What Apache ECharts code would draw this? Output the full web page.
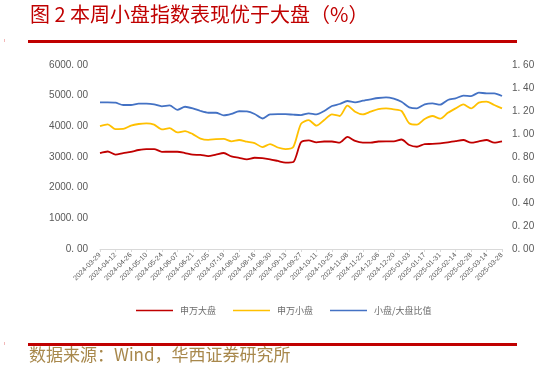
<!DOCTYPE html>
<html>
<head>
<meta charset="utf-8">
<script src="https://cdn.jsdelivr.net/npm/echarts@6/dist/echarts.min.js"></script>
<style>
html,body{margin:0;padding:0;background:#fff;}
#c{width:544px;height:371px;}
</style>
</head>
<body>
<div id="c"></div>
<script>
var dates = ['2024-03-29','2024-04-05','2024-04-12','2024-04-19','2024-04-26','2024-05-03','2024-05-10','2024-05-17','2024-05-24','2024-05-31',
'2024-06-07','2024-06-14','2024-06-21','2024-06-28','2024-07-05','2024-07-12','2024-07-19','2024-07-26','2024-08-02','2024-08-09',
'2024-08-16','2024-08-23','2024-08-30','2024-09-06','2024-09-13','2024-09-20','2024-09-27','2024-10-04','2024-10-11','2024-10-18',
'2024-10-25','2024-11-01','2024-11-08','2024-11-15','2024-11-22','2024-11-29','2024-12-06','2024-12-13','2024-12-20','2024-12-27',
'2025-01-03','2025-01-10','2025-01-17','2025-01-24','2025-01-31','2025-02-07','2025-02-14','2025-02-21','2025-02-28','2025-03-07',
'2025-03-14','2025-03-21','2025-03-28'];

var largeCap = [3130,3180,3075,3125,3170,3228,3260,3260,3170,3172,
3172,3130,3075,3070,3030,3080,3130,3020,2975,2925,
2975,2965,2925,2870,2815,2835,3480,3545,3475,3505,
3505,3470,3655,3525,3470,3470,3505,3510,3510,3570,
3390,3335,3420,3425,3445,3478,3520,3554,3467,3510,
3554,3467,3510];

var smallCap = [4010,4065,3910,3915,4021,4076,4097,4054,3902,3940,
3800,3847,3745,3600,3560,3580,3590,3510,3555,3500,
3455,3320,3420,3310,3260,3325,4080,4200,4021,4206,
4391,4337,4673,4478,4391,4478,4565,4586,4554,4500,
4100,4054,4239,4337,4250,4440,4586,4717,4586,4771,
4804,4695,4586];

var ratio = [1.275,1.275,1.272,1.252,1.252,1.264,1.264,1.258,1.241,1.249,
1.210,1.237,1.223,1.200,1.185,1.185,1.162,1.175,1.198,1.196,
1.174,1.135,1.170,1.172,1.172,1.168,1.165,1.180,1.171,1.200,
1.243,1.261,1.287,1.275,1.290,1.302,1.313,1.319,1.307,1.280,
1.232,1.223,1.258,1.267,1.255,1.296,1.310,1.333,1.330,1.359,
1.354,1.354,1.330];

var seriesNames = ['申万大盘','申万小盘','小盘/大盘比值'];
var titleText = '图 2 本周小盘指数表现优于大盘（%）';
var sourceText = '数据来源：Wind，华西证券研究所';

var chart = echarts.init(document.getElementById('c'));
function fmt(v){ return v.toFixed(2).replace('.', '. '); }
var labelColor = '#595959';
chart.setOption({
  backgroundColor: '#fff',
  animation: false,
  graphic: [
    {type:'text', left:30, top:4, style:{text:titleText, fill:'#c00000', font:'20px "Noto Sans CJK SC"'}},
    {type:'rect', shape:{x:28, y:40, width:489, height:3}, style:{fill:'#c00000'}},
    {type:'rect', shape:{x:4, y:39, width:1, height:3}, style:{fill:'#f2b8b8'}},
    {type:'rect', shape:{x:28, y:343, width:489, height:3}, style:{fill:'#c00000'}},
    {type:'rect', shape:{x:4, y:342, width:1, height:3}, style:{fill:'#f2b8b8'}},
    {type:'text', left:29, top:346, style:{text:sourceText, fill:'#a8884c', font:'17px "Noto Sans CJK SC"'}}
  ],
  legend: {
    data: seriesNames,
    left: 136, top: 306, padding: 0,
    itemWidth: 37, itemHeight: 10, itemGap: 17,
    icon: 'path://M0,4.2L37,4.2L37,5.8L0,5.8Z',
    textStyle: {color: '#6b6b6b', fontSize: 9, fontFamily: 'Noto Sans CJK SC', padding:[0,0,0,2]}
  },
  grid: {left: 100, right: 42, top: 65, bottom: 122, containLabel: false},
  xAxis: {
    type: 'category', data: dates, boundaryGap: false,
    axisLine: {lineStyle: {color: '#d9d9d9'}},
    axisTick: {show: true, interval: 1, length: 3, lineStyle: {color: '#d9d9d9'}},
    axisLabel: {interval: 1, rotate: 45, fontSize: 7, color: labelColor, margin: 5, fontFamily: 'Liberation Sans'},
    splitLine: {show: false}
  },
  yAxis: [
    {type: 'value', min: 0, max: 6000, interval: 1000,
     axisLine: {show: false}, axisTick: {show: false}, splitLine: {show: false},
     axisLabel: {formatter: fmt, color: labelColor, fontSize: 10, margin: 12, fontFamily: 'Liberation Sans'}},
    {type: 'value', min: 0, max: 1.6, interval: 0.2,
     axisLine: {show: false}, axisTick: {show: false}, splitLine: {show: false},
     axisLabel: {formatter: fmt, color: labelColor, fontSize: 10, margin: 10, fontFamily: 'Liberation Sans'}}
  ],
  series: [
    {name: seriesNames[0], type: 'line', data: largeCap, yAxisIndex: 0, showSymbol: false, smooth: 0.25,
     lineStyle: {color: '#c00000', width: 1.8}, itemStyle: {color: '#c00000'}},
    {name: seriesNames[1], type: 'line', data: smallCap, yAxisIndex: 0, showSymbol: false, smooth: 0.25,
     lineStyle: {color: '#ffc000', width: 1.8}, itemStyle: {color: '#ffc000'}},
    {name: seriesNames[2], type: 'line', data: ratio, yAxisIndex: 1, showSymbol: false, smooth: 0.25,
     lineStyle: {color: '#4472c4', width: 1.8}, itemStyle: {color: '#4472c4'}}
  ]
});
</script>
</body>
</html>
